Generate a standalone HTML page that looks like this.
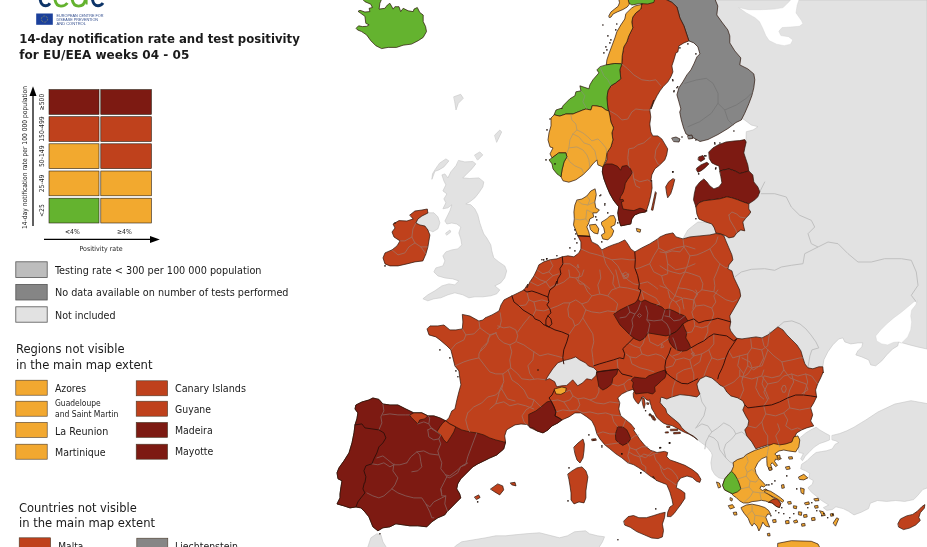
<!DOCTYPE html>
<html><head><meta charset="utf-8"><title>ECDC map</title>
<style>html,body{margin:0;padding:0;background:#fff;overflow:hidden}svg{display:block}</style>
</head><body>
<svg width="927" height="547" viewBox="0 0 927 547">
<rect width="927" height="547" fill="#fff"/>
<!-- MAP -->
<g stroke-linejoin="round" stroke-linecap="round">
<polygon points="700,0 927,0 927,349 917.6,346.9 909.7,344.9 902.7,342.9 898.7,341.9 897.7,345.9 892.7,348.9 886.7,354.9 881.7,360.9 875.7,365.8 870.7,364.9 868.7,359.9 861.8,356.9 855.8,354.9 857.8,350.9 861.8,346.9 862.8,342.9 857.8,342.9 850.8,343.9 844.8,341.9 842.8,337.9 838.8,338.9 832.8,344.9 827.8,351.9 823.8,359.9 822.8,366.8 800,380 750,345 715,335 700,300 700,250 720,205 735,165 746,140 746.3,131.7 753,130 758,126.7 751.3,125 744.7,120 738,116 725,70" fill="#e2e2e2" stroke="#c4c4c4" stroke-width="0.6"/>
<polygon points="898.7,341.9 893.7,342.3 887.7,344.9 881.7,343.9 876.7,340.9 875.7,335.9 880.7,329.9 886.7,323.9 893.7,317.9 901.7,312 907.7,307 913.7,302 917.6,300 915.7,305 911.7,310 910.7,315.9 911.7,321.9 910.7,329.9 907.7,336.9 903.7,340.9 901.7,342.9" fill="#ffffff" stroke="#d0d0d0" stroke-width="0.4"/>
<polygon points="738.9,7.6 748.6,9.7 761.5,9.7 774.5,9.1 783.1,7.6 788.5,2.2 791.7,-1.1 799.3,-1.1 797.1,5.4 796,12.9 801.4,20.5 802.9,23.7 799.3,26.3 790.6,27 782,27.6 778.8,31.3 780.9,35.6 788.5,36.7 792.8,39.9 790.6,44.2 784.2,45.7 776.6,44.2 769.1,40.6 765.8,35.6 762.6,28 759.4,21.6 755,17.7 746.4,12.9" fill="#ffffff" stroke="#d0d0d0" stroke-width="0.4"/>
<polygon points="683,238.9 685,234.9 687.9,229.9 692.9,225.9 697.9,222 705.9,222 711.9,224 714.3,227.9 716.9,233.9 709.9,235.9 699.9,236.9 689.9,237.9" fill="#e2e2e2" stroke="#c4c4c4" stroke-width="0.6"/>
<polygon points="660.6,398.3 661.7,397.2 666.8,399 671.2,397.2 680,394.6 688.9,395.5 696.9,396.9 699.9,394 697.9,389 696.9,384 699.9,379 705.9,376 711.9,378 716.8,382 723.8,387 727.8,392 731.8,395.9 737.8,397.9 743.8,400.9 745.8,404.9 743.8,409.9 746.8,415.9 749.8,420.9 748.8,425.9 745.8,429.9 747.8,435.9 752.8,441.9 756.8,448.8 750.8,452.8 744.8,454.8 742.8,459.8 737.8,461.8 733.8,463.8 732.8,468.8 729.8,472.8 726.8,475.8 723.8,479 718.8,477.8 714.9,474.8 711.9,469.8 710.9,462.8 712.2,455 711.3,452.6 708.6,448.9 704.9,445.3 701.2,442.5 697.6,439.8 693.5,436.2 689.3,433.8 685.2,431.1 681.6,427.4 679.3,423.8 675.6,420.6 671,416.9 666.9,413.2 665.6,408.7 663.2,406.3 660.2,402.7" fill="#e2e2e2" stroke="#c4c4c4" stroke-width="0.6"/>
<polygon points="800.7,437.2 806.1,432.7 812.4,429 816.1,427.2 819.7,429.9 826,433.6 829.6,435.4 829.6,439.9 825.1,441.7 819.7,443.5 814.2,447.1 809.7,451.6 805.2,456.2 802.5,460.7 800.7,458.9 803.4,453.5 798.9,452.5 798.3,445.3 798.3,439.9" fill="#e2e2e2" stroke="#c4c4c4" stroke-width="0.6"/>
<polygon points="832.3,435.4 839.6,433.6 846.8,430.8 854,427.2 861.3,422.7 865.8,420 877.9,412 894.7,404.1 911,400.7 930,404.1 930,486.9 922.7,489.6 917.3,495.9 913.7,499.6 904.7,501.4 895.6,500.5 886.6,501.4 877.5,500.5 870.3,503.2 868.5,508.6 861.3,512.2 854,514.9 848.6,511.3 843.2,508.6 835.9,506.8 832.3,509.5 826.9,510.4 823.3,507.7 828.7,505 821.5,500.5 816.1,495.9 811.5,492.3 807.9,487.8 812.4,484.2 813.3,480.6 808.8,477.9 809.7,473.3 805.2,470.6 800.7,468.8 801.6,464.3 807,460.7 811.5,456.2 816.1,452.5 821.5,451.6 826.9,450.7 832.3,448.9 835,444.4 838.7,442.6 835.9,440.8 832.3,439.9" fill="#e2e2e2" stroke="#c4c4c4" stroke-width="0.6"/>
<polygon points="458.8,160.5 464.8,161.9 472.8,161.5 475.8,163.9 471.8,168.9 465.8,174.9 462.8,177.9 469.8,178.5 478.8,177.9 483.8,181.9 482.8,186.9 478.8,192.9 474.8,197.9 469.8,201.8 465.8,203.8 470.8,204.8 474.8,208.8 477.8,214.8 479.8,222.8 481.8,228.8 483.8,234 486.8,238 490.8,244.9 491.8,250.9 493.8,257.9 498.8,261.9 504.7,265.9 506.7,270.9 504.7,277.9 500.7,282.9 494.8,285.9 499.8,289.9 496.8,293.8 490.8,295.8 482.8,296.8 474.8,296.8 468.8,297.8 462.8,294.8 454.8,292.8 447.9,294.8 440.9,297.8 433.9,298.8 427.9,300.8 422.9,298.8 427.9,294.8 434.9,290.8 441.9,285.9 448.9,283.9 454.8,284.9 458.8,280.9 452.8,278.9 444.9,277.9 437.9,275.9 433.9,271.9 435.9,267.9 442.9,265.9 444.9,260.9 442.9,255.9 445.9,251.9 451.8,249.9 457.8,248.9 461.8,244.9 460.8,239 458.8,233 460.8,227 456.8,224 451.8,223 446.9,224 444.9,221 446.9,217 449.9,210.8 451.8,204.8 447.9,207.8 442.9,208.8 445.9,202.8 443.9,198.9 446.9,193.9 442.9,190.9 445.9,184.9 443.9,180.9 441.9,174.9 444.9,173.9 447.9,177.9 450.8,171.9 455.8,165.9" fill="#e2e2e2" stroke="#c4c4c4" stroke-width="0.6"/>
<polygon points="439.9,162.9 445.9,158.9 448.9,160.9 443.9,166.9 438.9,169.9 434.9,171.3 431.9,179.3 432.5,173.9 434.9,169.9" fill="#e2e2e2" stroke="#c4c4c4" stroke-width="0.6"/>
<polygon points="474.8,154.9 479.8,151.9 482.8,154.9 477.8,159.9" fill="#e2e2e2" stroke="#c4c4c4" stroke-width="0.6"/>
<polygon points="494.8,135 499.8,130 501.7,132 496.8,142" fill="#e2e2e2" stroke="#c4c4c4" stroke-width="0.6"/>
<polygon points="421.9,215.8 427.9,212.8 433.9,212.8 437.9,216.8 439.9,222.8 437.9,228.8 432.9,231.8 427.9,229.8 424.9,225.8 419.9,224.8 415.9,222.8 417.9,218.8" fill="#e2e2e2" stroke="#c4c4c4" stroke-width="0.6"/>
<polygon points="454,96.7 460.7,94.3 463.3,98.3 458.3,103.3 456,110 454.7,101.7" fill="#e2e2e2" stroke="#c4c4c4" stroke-width="0.6"/>
<polygon points="445.9,233 449.9,230 450.8,232 446.9,235" fill="#e2e2e2" stroke="#c4c4c4" stroke-width="0.6"/>
<polygon points="366.9,549.8 370.9,537.8 376.9,533.8 380.9,534.8 382.9,541.8 387.9,549.8" fill="#e2e2e2" stroke="#c4c4c4" stroke-width="0.6"/>
<polygon points="451.8,549.8 455.7,545.8 461.7,541.8 473.7,539.8 485.7,537.8 495.7,535.8 505.6,535.8 515,534.8 525.6,533.8 539.6,532.8 559.5,537.8 567.5,535.8 574.5,531.8 585.5,530.8 589.5,533.8 597.5,535.8 604.5,536.8 602.5,541.8 597.5,549.8" fill="#e2e2e2" stroke="#c4c4c4" stroke-width="0.6"/>
<g fill="none" stroke="#c0c0c0" stroke-width="1">
<polyline points="761.3,193.7 774.7,193.7 786.3,197 791.3,207 799.7,215.3 811.3,220.3 814.7,227 808,233.7 811.3,243.7 818,247 804.7,253.7 803,263.7 791.3,265.3 781.3,267 774.7,270.3 764.7,268.7 751.3,269.3 741.3,272 734.7,277"/>
<polyline points="818,247 828,242 838,243.7 848,253.7 858,262 871.3,262 884.7,258.7 901.3,258.7 911.3,260.3 916.3,272 918,285.3 911.3,295.3 916.3,302"/>
<polyline points="777.9,326.9 783.9,321.9 791.9,320.9 799.9,323.9 805.9,328.9 810.9,334.9 815.9,341.9 818.8,347.9 811.9,349.9 809.9,355.9 808.9,361.9 807.9,367.8"/>
<polyline points="699.9,394 701.9,401.9 705.9,407.9 703.9,415.9 699.9,421.9 695.9,427.9"/>
<polyline points="695.9,427.9 701.9,423.9 707.9,425.9 711.9,431.9 708.9,435.9 705.9,441.9 704.9,448.8"/>
<polyline points="711.9,431.9 717.8,427.9 723.8,422.9 729.8,425.9 733.8,429.9 735.8,433.9 731.8,438.9 725.8,443.9 723.8,449.8 725.8,457.8 729.8,461.8 733.8,463.8"/>
<polyline points="708.9,435.9 713.9,437.9 717.8,441.9 719.8,449.8 725.8,457.8"/>
<polyline points="735.8,433.9 741.8,431.9 746.8,435.9"/>
<polyline points="759.7,192 764.7,182"/>
</g>
<polygon points="362.5,-0.8 364.9,1.7 370.8,4.2 372.4,7.5 369.1,8.3 369.9,11.6 364.9,12 360,10.3 358,11.3 364.9,16.3 365.8,23.3 369.1,24.9 366.6,26.3 362.5,26.6 358.6,25.8 356.1,28.3 357.5,29.9 361.6,31.6 366.6,34.9 370.8,40.7 375.8,45.7 381.6,48.6 388.2,47.4 396.5,47.4 403.2,45.2 411.5,44.1 418.2,40.7 423.2,37.4 426.5,31.6 425.6,26.6 423.2,21.6 423.2,15 419.8,12.5 417.3,7.5 414,9.1 413.2,11.6 408.2,10.8 403.2,8.3 400.7,11.6 399,6.7 394.9,6.7 393.2,9.1 389.9,3.3 387.4,5 384.9,8.3 379.1,9.1 379.9,3.3 381.6,-0.8" fill="#64b32f" stroke="#2a1208" stroke-width="0.7"/>
<polygon points="665,-1 671.9,2.4 676.9,7 679.9,18 683.9,25.9 688.9,40.9 693.9,42.9 697.9,46.9 699.9,53.9 696.9,56.9 693.9,63.9 690.9,69.9 686.9,74.9 682.9,81.8 678.9,87.8 676.9,94.8 678.9,101.8 680.9,109 679.7,112 681.3,120 683.6,128 686,134 692,137 700,141.5 708,139.5 718,134.5 728,128.5 736,122.5 741.3,120 744.7,113.3 748.8,103.8 751.8,95.8 753.8,87.8 754.8,79.8 753.8,73.9 747.8,68.9 739.8,64.9 740.8,57.9 734.8,50.9 729.8,42.9 729.8,35.9 727.8,29.9 721.8,22 716.8,15 717.8,6 714.9,-1" fill="#868686" stroke="#2a1208" stroke-width="0.7"/>
<polygon points="642.8,-1 640.8,9 635.8,13 632.8,17 631.8,22 632.8,27.9 628.8,35.9 626.8,41.9 623.8,46.9 622.2,55.9 621.8,63.9 619.8,69.9 620.8,78.8 615.8,82.8 610.9,85.8 607.9,90.8 606.9,97.8 607.9,109 608.9,111 609.9,116 610.9,122 613.5,127.9 611.9,132.9 612.9,139.9 610.9,146.9 606.9,152.9 606.9,159.9 604.9,163.9 602.9,166.9 602.3,171.9 603.9,178.8 606.9,186.8 609.9,193.8 613.9,200.8 618.8,206.8 617.8,212.9 618.8,219.9 620.8,225.9 625.8,224.9 630.8,223.9 631.8,218.9 634.8,214.9 639.7,212.9 645.7,211.9 646.7,209.9 648.7,204 650.7,196 652.1,188 651.7,180 650.8,181.8 651.8,174.9 654.8,168.9 659.8,164.9 664.8,159.9 666.7,154.9 667.7,148.9 664.8,143.9 661.8,138.9 657.8,135.9 652.8,135.9 650.8,131.9 649.8,124 650.8,117 649.8,110 651.8,105 653.8,100 651,109 654,101.8 657,95.8 660,90.8 663,86.8 667.9,81.8 670.9,76.8 672.9,71.9 671.9,65.9 673.9,59.9 675.9,52.9 677.9,51.9 678.9,45.9 683.9,42.9 688.9,40.9 683.9,25.9 679.9,18 676.9,7 671.9,2.4 665,-1" fill="#bf411c" stroke="#2a1208" stroke-width="0.7"/>
<polygon points="602.9,166.9 602.3,171.9 603.9,178.8 606.9,186.8 609.9,193.8 613.9,200.8 618.8,206.8 617.8,212.9 618.8,219.9 620.8,225.9 625.8,224.9 630.8,223.9 631.8,218.9 634.8,214.9 639.7,212.9 645.7,211.9 646.7,209.9 647,211.3 643.1,209 640,208.2 633.8,210.6 627.6,209.8 623,209 622.2,205.9 621.4,202 623.7,201.2 623,199.4 619.8,199.7 620.6,196.6 623,192.7 624.5,188 625.3,183.4 627.6,179.5 629.9,176.4 632.3,172.5 629.9,167.9 626.8,165.5 622.2,166.3 620.6,170.2 617.5,166.3 612.1,164 606.6,164" fill="#7d1a12" stroke="#2a1208" stroke-width="0.7"/>
<polygon points="655.3,192 651.3,209.9 652.9,210.3 656.3,193.2" fill="#bf411c" stroke="#2a1208" stroke-width="0.7"/>
<polygon points="672.7,178.8 668.7,181.8 665.7,186.8 666.7,193.8 667.7,197.8 670.7,193.8 672.7,187.8 674.7,179.8" fill="#bf411c" stroke="#2a1208" stroke-width="0.7"/>
<polygon points="631.8,8 634.8,6 641.8,4.4 642.8,0 640.8,9 635.8,13 632.8,17 631.8,22 632.8,27.9 628.8,35.9 626.8,41.9 623.8,46.9 622.2,55.9 621.8,63.9 614.9,63.5 606.3,64.9 606.9,59.9 608.9,53.9 611.9,45.9 614.9,37.9 616.8,31.9 620.8,25 624.8,19 625.8,14" fill="#f2a830" stroke="#2a1208" stroke-width="0.7"/>
<polygon points="627.8,-1 628.8,3 631.8,5 639.8,3.6 647.8,4 653.8,2.4 654.8,-1" fill="#64b32f" stroke="#2a1208" stroke-width="0.7"/>
<polygon points="608.9,15.7 611,11.9 614.5,9.1 618.1,6.3 619.5,2.8 618.8,-0.7 628.1,-0.7 629.3,4.2 627.2,7 623,9.5 617.3,11.9 613.1,14 611,17.1 609.6,17.5" fill="#f2a830" stroke="#2a1208" stroke-width="0.7"/>
<polygon points="606.3,64.9 614.9,63.5 621.8,63.9 619.8,69.9 620.8,78.8 615.8,82.8 610.9,85.8 607.9,90.8 606.9,97.8 607.9,109 608.9,111 605.9,110 601.9,107 596.9,106 592.3,105.6 590.9,110 585.9,109 582.9,110 577.9,112 572.9,114 565.9,114 560,116 554,115 556,110 562,108 561.6,109 563,105.8 565.9,102.8 569.9,98.8 574.9,95.8 575.9,91.8 580.9,90.8 579.9,85.8 582.9,86.8 588.9,88.8 589.9,84.8 592.9,79.8 598.9,72.9 596.9,69.9 599.9,66.9" fill="#64b32f" stroke="#2a1208" stroke-width="0.7"/>
<polygon points="554,115 551,118 551,125.9 549,132.9 548,139.9 550,146.9 553,147.9 550,153.9 552,157.9 559,152.9 565.9,152.9 566.9,156.9 564,161.9 562,169.9 561,176.8 563,180.8 568.9,182.2 575.9,179.8 582.9,174.9 588.9,168.9 592.9,163.9 596.9,159.9 597.9,164.9 602.9,166.9 605.9,159.9 606.9,152.9 610.9,146.9 612.9,139.9 611.9,132.9 613.5,127.9 610.9,122 609.9,116 608.9,111 605.9,110 601.9,107 596.9,106 592.3,105.6 590.9,110 585.9,109 582.9,110 577.9,112 572.9,114 565.9,114 560,116" fill="#f2a830" stroke="#2a1208" stroke-width="0.7"/>
<polygon points="559,152.9 565.9,152.9 566.9,156.9 564,161.9 562,169.9 561,176.8 557,173.9 553,168.9 552,163.9 549,159.9 552,157.9" fill="#64b32f" stroke="#2a1208" stroke-width="0.7"/>
<polygon points="594.8,189 590.8,191 586.8,196 581.9,199 576.9,200 574.9,205 573.9,211.9 574.3,218.9 573.5,224.9 575.9,230.9 577.9,235.9 589.8,236.5 588.8,231.9 586.8,226.9 588.8,222.9 589.8,218.9 593.8,216.9 592.8,212.9 596.8,212.9 599.4,209.9 595.8,207.9 594.8,202 596.2,195" fill="#f2a830" stroke="#2a1208" stroke-width="0.7"/>
<polygon points="589.8,224.9 595.8,224.3 598.8,228.9 597.8,233.9 593.8,232.9 590.8,229.9" fill="#f2a830" stroke="#2a1208" stroke-width="0.7"/>
<polygon points="601.8,221.9 606.8,218.9 609.8,215.9 613.8,215.5 615.8,219.9 614.8,224.9 610.8,226.9 613.8,230.9 611.8,235.9 607.8,239.9 602.8,238.9 601.4,234.9 604.8,232.9 603.8,227.9 601.8,224.9" fill="#f2a830" stroke="#2a1208" stroke-width="0.7"/>
<polygon points="636.7,228.5 640.7,229.5 640.1,232.3 637.3,231.5" fill="#f2a830" stroke="#2a1208" stroke-width="0.7"/>
<polygon points="708.9,151.9 712.9,147.9 717.9,145 725.9,142 733.9,141 739.8,140.6 744.8,139.6 746.2,142 744.8,147.9 743.8,152.9 745.8,158.9 747.8,164.9 748.8,170.9 744.8,172.3 739.8,173.5 734.9,170.9 728.9,168.9 723.9,169.9 719.9,170.9 718.9,165.9 715.9,164.9 711.9,162.9 709.5,158.9" fill="#7d1a12" stroke="#2a1208" stroke-width="0.7"/>
<polygon points="698.9,156.9 702.9,155.5 704.9,158.9 700.9,161.5 698.3,159.9" fill="#7d1a12" stroke="#2a1208" stroke-width="0.7"/>
<polygon points="696.9,167.9 700.9,164.9 706.9,162.3 708.9,163.9 704.9,167.9 700.9,170.9 697.9,172.3 696.5,169.9" fill="#7d1a12" stroke="#2a1208" stroke-width="0.7"/>
<polygon points="719.9,170.9 723.9,169.9 728.9,168.9 734.9,170.9 739.8,173.5 748.8,170.9 752.8,174.9 753.8,181.9 757.8,186.9 759.8,191.9 757.8,196.8 754.8,199.8 748.8,203.8 743.8,202.2 737.8,199.8 731.9,197.8 726.9,196.8 719.9,198.8 711.9,199.8 703.9,200.8 698.9,202.8 695.9,206.8 693.5,199.8 694.3,193.9 695.9,186.9 699.9,181.9 703.9,178.9 706.9,181.9 709.9,185.9 713.9,188.9 718.9,186.9 721.9,182.9 720.9,176.9" fill="#7d1a12" stroke="#2a1208" stroke-width="0.7"/>
<polygon points="695.9,206.8 698.9,202.8 703.9,200.8 711.9,199.8 719.9,198.8 726.9,196.8 731.9,197.8 737.8,199.8 743.8,202.2 748.8,203.8 748.8,209 750.8,212 748.8,215 745.8,218 742.8,222 743.8,226.9 744.8,230.9 740.8,229.9 736.8,232.9 733.9,236.9 728.9,237.9 725.9,235.9 720.9,233.9 715.9,232.9 714.3,227.9 711.9,224 705.9,222 698.9,219 696.9,214 695.9,207" fill="#bf411c" stroke="#2a1208" stroke-width="0.7"/>
<polygon points="409.9,215 414.9,211 421.9,210 427.3,209 427.9,213 421.9,216 417.9,219 415.9,223 419.9,225 424.9,226 427.9,230 429.9,235 428.9,240.9 427.9,246.9 425.9,253.9 422.9,260.9 414.9,261.9 406.9,263.9 398,265.9 390,265.9 385,263.9 383,257.9 385,252.9 392,249.9 397,245.9 400,240.9 394,237 392,232 395,228 393,224 399,220.6 406.9,221 412.9,219" fill="#bf411c" stroke="#2a1208" stroke-width="0.7"/>
<polygon points="577.9,235.9 580.9,241.9 580.9,248.9 578.9,252.9 573.9,256.8 567.9,255.8 562.3,256.8 556.9,258.8 549.9,259.8 543.9,261.8 538.9,264.8 536.9,269.8 534,275.8 530,281.8 527,287.8 527.9,284 523.9,290 517.9,293 511.9,295.9 504,299.9 501,304.9 499,310.9 492,314.9 485,317.9 482.9,320 478.9,321 469.9,316 462.3,314.4 462.9,322 462.3,328.9 455.9,329.9 449.9,329.9 443.9,325 437.9,325.9 430,325.9 427,328.9 429,334.9 435.9,336.9 439.9,339.9 446.9,345.9 450.9,349.9 452.9,357.9 454.9,365.9 458.9,370.9 459.9,378.8 460.9,384.8 458.9,391.8 456.9,399.8 454.9,409 451.8,410.9 448.8,417.9 445.8,420.9 439.8,417.9 433.8,415.9 427.8,415.9 421.8,412.9 413.8,412.9 405.8,409 397.9,405 389.9,405 382.9,404 378.9,399.4 372.9,398 368.9,400 361.9,402 355.9,405 355,409 357.9,412.9 356.9,418.9 355,424.9 354,432.9 352,442.9 349,452.9 344,460.8 339,467.8 337,472.8 338,478.8 342,480.8 341,486.8 340,494 340,497.9 337,503.9 344,505.9 350,507.9 355.9,506.9 360.9,507.9 364.9,511.9 368.9,516.8 370.9,521.8 372.9,526.8 377.9,530.8 382.9,527.8 389.9,526.8 395.9,523.8 402.9,524.8 409.8,525.8 417.8,525.8 426.8,526.8 431.8,521.8 437.8,517.8 444.8,514.8 446.8,511.9 451.8,506.9 456.7,501.9 460.7,497.9 459.7,493.9 456.7,488.9 457.7,483.9 460.7,478.9 465.7,473.9 469.7,469.9 472.7,466.9 477.7,463.9 483.7,461 489.7,458 496.7,455 503.7,449 505.6,442 504.7,435.9 506.6,429.9 511.6,426.9 515,424.9 521,424 527,424.5 532,428.5 537,430.9 543,432.9 548,429.9 552,425.9 557.9,422.9 561.9,419.9 568.9,416.9 574.9,412.9 580.9,412.9 586.9,416.9 591.9,420.9 594.9,426.9 596.9,433.9 599.9,438.9 604.9,444.9 609.8,448.8 615.8,453.8 621.8,457.8 627.8,462.8 633.8,464.8 638.8,467.8 644.8,471.8 649.8,475.8 654.8,479 652.8,476 656,480.3 661.3,482.4 666.7,484.5 669.9,492 672,499.5 673.1,504.9 669.9,507 667.7,512.3 667.3,516.6 670.9,516.6 674.2,513.4 677.4,509.1 680.6,504.9 684.9,498.4 684.9,493.1 680.6,489.9 676.3,487.7 677.4,482.4 680.6,478.1 687,476 692.3,477.5 696.6,481.3 699.8,482.4 700.9,479.2 697.7,473.8 692.3,469.6 684.9,465.3 676.3,462.1 669.9,459.9 666.7,456.7 667.7,452.5 664.5,451.4 657,452.5 650.6,450.3 645.3,446 639.9,439.6 635.7,433.2 633.5,430 634.8,428.9 630.8,423.9 625.8,419.9 620.8,415.9 618.8,408.9 619.8,402.9 617.8,397.9 621.8,394 627.8,391 632.8,389.4 634.3,391 633.2,393.5 633.5,397.6 635.7,401.2 638.3,404.1 640.1,401.2 641.6,397.9 642.7,396.5 644.5,397.6 646,399.4 648.2,400.5 649.6,399.8 650,402.7 651.1,405.6 651.8,408.7 654.1,412.3 656.4,416.9 660.1,420.6 663.7,423.3 667.4,424.7 672,425.6 676.5,427.9 681.1,430.6 684.8,432.4 689.3,434.3 693.9,437 697.6,439.8 693.5,436.2 689.3,433.8 685.2,431.1 681.6,427.4 679.3,423.8 675.6,420.6 671,416.9 666.9,413.2 665.6,408.7 663.2,406.3 660.2,402.7 660.6,398.3 661.7,397.2 666.8,399 671.2,397.2 680,394.6 688.9,395.5 696.9,396.9 699.9,394 697.9,389 696.9,384 699.9,379 705.9,376 711.9,378 716.8,382 719.8,385 723.8,387 726.8,392 730.8,395.9 737.8,397.9 742.8,400.9 744.8,404.9 742.8,409.9 745.8,415.9 748.8,420.9 747.8,425.9 744.8,429.9 746.8,435.9 751.8,441.9 755.8,448.8 761.8,446.8 767.7,444.9 773.7,445.8 779.7,446.8 785.7,445.8 791.7,443.9 793.7,438.9 794.7,436.9 796.7,432.9 801.7,429.9 806.7,427.9 813.7,425.9 810.7,420.9 812.7,414.9 810.7,407.9 813.7,402.9 816.6,396.9 815.6,390 817.6,384 820.6,378 823.2,372 823.4,372.8 822.8,366.8 818.8,366.8 812.9,368.8 807.9,367.8 804.9,363.9 802.9,357.9 800.9,350.9 796.9,344.9 791.9,339.9 786.9,334.9 782.9,329.9 777.9,326.9 772.9,330.9 767.9,334.9 762,337.9 756,336.9 749,337.9 742,338.9 736.7,338.3 733.7,334.9 730.7,330.9 729.7,327.9 730.7,321.9 729.7,315.9 733.7,309 737.7,302 740.7,296 739.7,290 736.8,283.8 733.9,277.8 731.9,270.9 727.9,268.9 728.9,264.9 732.9,259.9 731.9,254.9 728.9,247.9 725.9,240.9 723.9,235.9 720.9,234.3 715.9,233.5 709.9,234.9 699.9,235.9 689.9,236.9 683,238.9 676,236.9 673,232.9 666,234.3 660,236.9 657.7,238.9 649.7,243.9 641.7,247.9 634.8,251.9 630.8,248.9 627.8,243.9 624.8,239.9 618.8,242.9 612.8,244.9 607.8,246.9 601.8,249.9 597.8,244.9 591.8,241.9 589.8,236.5" fill="#bf411c" stroke="#2a1208" stroke-width="0.7"/>
<polygon points="568,473.9 572,470.9 577,467.9 582,466.9 585.9,470.9 587.9,476.9 586.9,483.9 585.9,490.9 585.9,497.9 584,502.9 579,501.9 574,503.9 571,499.9 571,492.9 570,485.9 569,479.9" fill="#bf411c" stroke="#2a1208" stroke-width="0.7"/>
<polygon points="574,447 578,443 583,439 584.4,444 584,451 583,458 580,463 577,460 575,454" fill="#bf411c" stroke="#2a1208" stroke-width="0.7"/>
<polygon points="623.9,520.9 628.2,516.6 633.5,515.5 638.9,517.7 646.4,517.7 653.8,515.5 660.3,513.4 665.2,512.3 664.5,517.7 662.4,524.1 663.5,530.5 662.4,536.9 658.1,538.6 651.7,538 644.2,534.8 636.7,531.6 630.3,527.3 625,525.2" fill="#bf411c" stroke="#2a1208" stroke-width="0.7"/>
<polygon points="898,523.5 900.5,518.9 906.6,515.9 912.7,514.4 917.3,511.3 921.8,506.7 924.9,504.6 924.3,508.2 920.3,512.8 918.8,517.4 920.3,520.5 915.7,525 909.6,528.1 903.5,529.6 898.9,527.2" fill="#bf411c" stroke="#2a1208" stroke-width="0.7"/>
<polygon points="490.7,488.9 497.7,483.9 502.7,485.9 503.7,489.9 499.7,494.9 494.7,491.9" fill="#bf411c" stroke="#2a1208" stroke-width="0.7"/>
<polygon points="510.6,482.9 515,482.3 516,485.9 512,484.9" fill="#bf411c" stroke="#2a1208" stroke-width="0.7"/>
<polygon points="474.7,496.9 478.7,494.9 480.1,497.5 476.7,499.5" fill="#bf411c" stroke="#2a1208" stroke-width="0.7"/>
<polygon points="545.7,379.8 548.7,374.9 552.7,368.9 557.7,362.9 563.8,360.5 570.8,358.8 575.7,356.9 579.7,359.9 585.6,362.9 588.5,366 593.8,367.8 597,371 596,375.5 591.6,379.8 586.6,378.8 582.7,382.8 577.7,385.8 572.7,379.8 569.7,382.8 566.7,385.4 561.7,385.8 556.7,386.8 554.7,381.8 549.7,378.8" fill="#e2e2e2" stroke="#3a1208" stroke-width="0.7"/>
<polygon points="554.4,389 561.9,387 566.3,388 565.5,392 560.9,394.4 556.3,394" fill="#f2a830" stroke="#2a1208" stroke-width="0.7"/>
<polygon points="445.8,420.9 439.8,417.9 433.8,415.9 427.8,415.9 421.8,412.9 413.8,412.9 405.8,409 397.9,405 389.9,405 382.9,404 378.9,399.4 372.9,398 368.9,400 361.9,402 355.9,405 355,409 357.9,412.9 356.9,418.9 355,424.9 354,432.9 352,442.9 349,452.9 344,460.8 339,467.8 337,472.8 338,478.8 342,480.8 341,486.8 340,494 340,497.9 337,503.9 344,505.9 350,507.9 355.9,506.9 360.9,507.9 364.9,511.9 368.9,516.8 370.9,521.8 372.9,526.8 377.9,530.8 382.9,527.8 389.9,526.8 395.9,523.8 402.9,524.8 409.8,525.8 417.8,525.8 426.8,526.8 431.8,521.8 437.8,517.8 444.8,514.8 446.8,511.9 451.8,506.9 456.7,501.9 460.7,497.9 459.7,493.9 456.7,488.9 457.7,483.9 460.7,478.9 465.7,473.9 469.7,469.9 472.7,466.9 477.7,463.9 483.7,461 489.7,458 496.7,455 503.7,449 505.6,442 503.7,441.9 495.7,439.9 489.7,437.9 483.7,434.9 476.7,432.9 469.7,431.9 461.7,429.9 455.7,426.9 449.8,423.9" fill="#7d1a12" stroke="#2a1208" stroke-width="0.7"/>
<polygon points="409.8,414.9 413.8,412.9 421.8,412.9 427.8,415.9 424.8,418.9 419.8,419.9 417.8,423.9 414.8,420.9 411.8,417.9" fill="#bf411c" stroke="#2a1208" stroke-width="0.7"/>
<polygon points="445.8,420.9 449.8,423.9 455.7,426.9 453.8,431.9 450.8,436.9 446.8,442.9 443.8,439.9 440.8,434.9 436.8,431.9 439.8,426.9 442.8,422.9" fill="#bf411c" stroke="#2a1208" stroke-width="0.7"/>
<polygon points="614,314 620,310 627.9,306 634.9,303 637.9,299.6 640.9,302 644.9,300 650.9,303 656.9,305 661.9,307 664.9,310 668.9,309 673.9,311 679.8,314 684.8,315.9 687.8,320.9 682.8,323.9 679.8,327.9 675.8,331.9 669.9,334.9 665.9,335.9 659.9,334.9 653.9,333.9 647.9,332.9 644.9,337.9 639.9,340.9 634.9,338.9 629.9,334.9 625,329.9 620,324.9 617,319.9" fill="#7d1a12" stroke="#2a1208" stroke-width="0.7"/>
<polygon points="679.8,327.9 682.8,323.9 684.8,328.9 686.8,332.9 685.8,337.9 688.8,342.9 690.8,347.9 686.8,350.5 681.8,351.3 676.8,349.9 672.9,346.9 669.9,342.9 668.5,338.9 669.9,334.9 675.8,331.9" fill="#7d1a12" stroke="#2a1208" stroke-width="0.7"/>
<polygon points="631.3,379.7 634.5,377.1 639.7,377.8 645.5,378.4 648.8,375.8 653.9,373.9 659.1,371.9 665,370 666.7,371.9 665,377.8 661.7,380.4 657.8,384.3 654.6,386.9 655.2,391.4 652.7,394 647.5,392.7 641,393.3 635.8,394 634.5,391.4 632.5,386.9 633.2,383" fill="#7d1a12" stroke="#2a1208" stroke-width="0.7"/>
<polygon points="529,414.3 536,410.9 541,406.9 547,401.9 551,400.9 554,406.9 555.9,411.9 555,415.9 558.9,417.9 561.9,419.9 557.9,422.9 552,425.9 548,429.9 543,432.9 537,430.9 533,427.9 530,427.9 529,425.9" fill="#7d1a12" stroke="#2a1208" stroke-width="0.7"/>
<polygon points="596.9,372 601.9,371 609.8,370 617.8,369.6 616.8,374 612.8,378 611.8,384 606.8,388 602.9,390 598.9,387 597.9,381 596.9,376" fill="#7d1a12" stroke="#2a1208" stroke-width="0.7"/>
<polygon points="617.8,426.9 622.8,426.9 626.8,429.9 628.8,433.9 630.8,438.9 627.8,442.9 622.8,445.4 618.8,442.9 615.8,439.9 615.4,433.9 616.8,429.9" fill="#7d1a12" stroke="#2a1208" stroke-width="0.7"/>
<polygon points="756,450 761.9,448 767.9,445.9 773.8,443.5 779.9,444.9 785.9,443.9 791.8,442 793.8,436.9 797.9,435.9 799.8,440 798.8,446.8 795.7,451.9 788.9,451 783.8,450 778.9,451 774.8,453.9 777.5,456.6 781.4,458.6 778.5,460 775.6,459 774.6,461.5 777.5,465.4 775.6,466.6 772.2,462.7 770.7,464.5 772.2,469.4 769.7,470.3 767.1,465.4 766.8,460.5 766.8,456.6 761.9,458.6 757.9,462.5 755,468.4 756,473.3 758.9,478.2 762.8,482.1 765.8,485.4 763.8,487 761.3,486 759.9,488.5 762.4,490.5 765.8,488.9 768.7,491.3 766.8,492.8 770.7,495.8 774.6,498.7 778.5,500.7 780.8,503.6 779.5,507.5 776.5,506.5 772.2,503 768.7,502.2 765.8,501.1 761.3,500.3 757,501.1 752.1,501.6 748.2,503 743.3,503 739.4,500.7 736.4,497.7 733.5,495.8 731.9,493.8 729.6,492.4 724.7,489.9 722.7,485 724.7,479.1 728.6,474.2 731.5,471.3 733.5,466.4 733.1,462.5 737.4,459.6 743.3,457.6 746.2,454.7 751.1,452.1 754,450.8" fill="#f2a830" stroke="#2a1208" stroke-width="0.7"/>
<polygon points="722.7,485 724.7,479.1 728.6,474.2 731.5,471.3 734.5,474.2 737.4,479.1 739.4,484 740.9,488.9 737.4,491.9 732.5,493.8 729.6,492.4 724.7,489.9" fill="#64b32f" stroke="#2a1208" stroke-width="0.7"/>
<polygon points="768.7,502.2 772.2,499.7 776.5,498.7 778.5,500.7 780.8,503.6 779.5,507.5 776.5,506.5 772.2,503" fill="#bf411c" stroke="#2a1208" stroke-width="0.7"/>
<polygon points="765.8,489.9 770.7,491.3 775.6,494.4 780.5,497.7 784,500.7 782.4,502.2 778.5,499.7 773.6,497.1 768.7,494.4 764.8,492.4" fill="#f2a830" stroke="#2a1208" stroke-width="0.7"/>
<polygon points="741.3,507.5 746.2,505 752.1,504.2 758.9,505.6 764.8,507.5 768.7,510.5 770.7,514.4 767.7,514 765.8,517.3 767.7,522.2 769.7,527.1 765.8,526.1 762.8,522.2 760.9,527.1 758.9,531 757,526.1 754,523.2 752.1,526.1 750.1,523.2 748.2,518.3 744.2,513.4 742.3,510.5" fill="#f2a830" stroke="#2a1208" stroke-width="0.7"/>
<polygon points="716.8,482.1 719.4,483.1 720.8,487 718.8,487.9" fill="#f2a830" stroke="#2a1208" stroke-width="0.7"/>
<polygon points="730.5,497.7 732.5,498.7 731.9,501.1 730.4,500.3" fill="#f2a830" stroke="#2a1208" stroke-width="0.7"/>
<polygon points="728.6,505.6 732.5,504.6 734.5,507.5 730.5,508.9" fill="#f2a830" stroke="#2a1208" stroke-width="0.7"/>
<polygon points="733.5,512.4 736.4,512 737,514.8 734.5,515.1" fill="#f2a830" stroke="#2a1208" stroke-width="0.7"/>
<polygon points="767.7,533.5 769.7,533.2 770.1,535.9 768.1,535.9" fill="#f2a830" stroke="#2a1208" stroke-width="0.7"/>
<polygon points="798.8,476.9 803.8,474.3 807.8,477.9 803.8,479.9 799.8,479.5" fill="#f2a830" stroke="#2a1208" stroke-width="0.7"/>
<polygon points="800.8,487.9 804.2,488.9 803.8,494.3 801.4,492.9" fill="#f2a830" stroke="#2a1208" stroke-width="0.7"/>
<polygon points="814.2,498.8 818.2,498.2 819,500.6 815.4,501" fill="#f2a830" stroke="#2a1208" stroke-width="0.7"/>
<polygon points="833.3,522.8 836.7,517.8 838.7,518.8 835.7,525.8" fill="#f2a830" stroke="#2a1208" stroke-width="0.7"/>
<polygon points="785.8,466.9 789.4,466.3 790.2,468.9 786.8,469.5" fill="#f2a830" stroke="#2a1208" stroke-width="0.7"/>
<polygon points="777.4,455.5 779.8,455.1 780.2,457.9 777.8,458.3" fill="#f2a830" stroke="#2a1208" stroke-width="0.7"/>
<polygon points="788.8,456.9 792.2,456.7 792.6,458.9 789.4,459.1" fill="#f2a830" stroke="#2a1208" stroke-width="0.7"/>
<polygon points="787.8,501.8 790.8,501.4 791.4,503.8 788.8,504.2" fill="#f2a830" stroke="#2a1208" stroke-width="0.7"/>
<polygon points="793.8,505.8 796.8,506.2 796.4,508.8 793.8,508.2" fill="#f2a830" stroke="#2a1208" stroke-width="0.7"/>
<polygon points="798.8,511.8 801.8,512.2 801.4,515.4 798.8,514.8" fill="#f2a830" stroke="#2a1208" stroke-width="0.7"/>
<polygon points="804.8,502.8 808.8,501.8 809.4,504.2 805.8,504.8" fill="#f2a830" stroke="#2a1208" stroke-width="0.7"/>
<polygon points="814.8,505.8 817.8,505.4 818.2,507.8 815.4,508.2" fill="#f2a830" stroke="#2a1208" stroke-width="0.7"/>
<polygon points="819.8,510.8 823.4,511.8 825.3,515.4 822.8,515.8" fill="#f2a830" stroke="#2a1208" stroke-width="0.7"/>
<polygon points="785.8,520.8 788.8,520.4 789.2,523.4 786.2,523.8" fill="#f2a830" stroke="#2a1208" stroke-width="0.7"/>
<polygon points="793.8,520.8 796.8,519.8 797.8,522.2 794.8,523" fill="#f2a830" stroke="#2a1208" stroke-width="0.7"/>
<polygon points="803.8,514.8 806.8,514.4 807.2,517 804.2,517.4" fill="#f2a830" stroke="#2a1208" stroke-width="0.7"/>
<polygon points="811.8,517.8 814.8,517.4 815.2,520.2 812.2,520.6" fill="#f2a830" stroke="#2a1208" stroke-width="0.7"/>
<polygon points="781.8,484.9 783.8,484.5 784.4,487.9 782.2,488.3" fill="#f2a830" stroke="#2a1208" stroke-width="0.7"/>
<polygon points="768.9,467.9 771.5,467.5 771.9,469.9 769.5,470.3" fill="#f2a830" stroke="#2a1208" stroke-width="0.7"/>
<polygon points="772.9,519.8 775.8,519.4 776.2,522.2 773.5,522.6" fill="#f2a830" stroke="#2a1208" stroke-width="0.7"/>
<polygon points="801.8,523.8 804.8,523.4 805.2,525.8 802.2,526.2" fill="#f2a830" stroke="#2a1208" stroke-width="0.7"/>
<polygon points="830.7,513.8 833.3,513.4 833.7,515.8 831.1,516.2" fill="#f2a830" stroke="#2a1208" stroke-width="0.7"/>
<polygon points="778,543.3 791.3,540.7 811.3,541.3 818,544 821.3,550.7 778,550.7" fill="#f2a830" stroke="#2a1208" stroke-width="0.7"/>
<polygon points="666.9,426.2 669.7,426 669.9,427.4 667.1,427.5" fill="#bf411c" stroke="#2a1208" stroke-width="0.7"/>
<polygon points="670.6,429.2 677.4,429 677.6,430.6 670.8,430.8" fill="#bf411c" stroke="#2a1208" stroke-width="0.7"/>
<polygon points="673.8,432.6 680.2,432.1 680.4,433.5 674,433.9" fill="#bf411c" stroke="#2a1208" stroke-width="0.7"/>
<polygon points="665.6,432 668.3,431.8 668.4,432.9 665.6,433" fill="#bf411c" stroke="#2a1208" stroke-width="0.7"/>
<polygon points="651.8,416 653.2,415.5 655.9,419.6 655,420.4" fill="#bf411c" stroke="#2a1208" stroke-width="0.7"/>
<polygon points="641.9,397.6 644.1,398.3 645.2,404.1 644.1,408.5 643,405.6" fill="#bf411c" stroke="#2a1208" stroke-width="0.7"/>
<polygon points="647.1,402.7 648.9,403 648.5,404.5 647.2,404.3" fill="#bf411c" stroke="#2a1208" stroke-width="0.7"/>
<polygon points="649.3,414.4 651.5,414.7 651.6,416 649.4,415.7" fill="#bf411c" stroke="#2a1208" stroke-width="0.7"/>
<polygon points="651.5,416.6 652.9,416.9 654.5,419.9 653.3,419.9" fill="#bf411c" stroke="#2a1208" stroke-width="0.7"/>
<polygon points="591.9,439.1 595.9,438.7 596.3,440.3 592.3,440.7" fill="#bf411c" stroke="#2a1208" stroke-width="0.7"/>
<polygon points="672,138 676,137 680,139 679,142 674,141.6" fill="#868686" stroke="#2a1208" stroke-width="0.7"/>
<polygon points="687.9,135.6 691.9,135 692.9,138.4 688.9,139" fill="#868686" stroke="#2a1208" stroke-width="0.7"/>
<g fill="none" stroke="#8e8e8e" stroke-width="1" opacity="0.5">
<polyline points="621.8,63.9 627.8,68.9 633.8,74.9 641.8,79.8 649.8,80.8 655.8,79.8 660.8,85.8"/>
<polyline points="609.9,111 616.8,115 621.8,120 627.8,119 631.8,112 635.8,109 643.8,110 649.8,110"/>
<polyline points="650.8,136.9 643.8,142.9 637.8,144.9 633.8,147.9 628.8,148.9 627.8,157.9 628.8,165.9 629.8,167.9"/>
<polyline points="659.8,142.9 655.8,149.9 654.8,157.9 657.8,163.9 659.8,164.9"/>
<polyline points="632.8,171.9 633.8,178.8 639.8,181.8 647.8,179.8 650.8,181.8"/>
<polyline points="633.8,178.8 635.8,185.8 639.8,187.8"/>
<polyline points="570.9,115 571.9,120 575.9,124 576.9,129.9 572.9,133.9 569.9,139.9 568.9,147.9 566.9,152.9"/>
<polyline points="576.9,129.9 582.9,132.9 587.9,136.9 591.9,140.9 597.9,138.9 601.9,142.9 605.9,147.9 606.9,152.9"/>
<polyline points="572.9,133.9 578.9,136.9 583.9,142.9 589.9,144.9 594.9,150.9 596.9,159.9"/>
<polyline points="568.9,147.9 576.9,146.9 582.9,149.9 586.9,154.9 588.9,159.9 589.9,167.9"/>
<polyline points="566.9,156.9 569.9,161.9 574.9,165.9 581.9,168.9 583.9,173.9"/>
<polyline points="580.9,90.8 584.9,95.8 582.9,101.8 586.9,109"/>
<polyline points="599.9,66.9 603.9,75.8 607.9,79.8 610.9,85.8"/>
<polyline points="728.9,215 731.9,212 736.8,214 739.8,217 745.8,218"/>
<polyline points="728.9,215 729.9,220 732.9,225 735.8,229.9 736.8,232.9"/>
<polyline points="660,251.9 666,252.9 672,250.9 680,251.9 684,246.9 683,238.9"/>
<polyline points="684,246.9 689.9,255.9 696.9,254.9 703.9,251.9 709.9,248.9 715.9,242.9 717.9,236.9"/>
<polyline points="709.9,248.9 713.9,256.9 719.9,263.9 725.9,267.9 728.9,266.9"/>
<polyline points="689.9,255.9 687.9,263.9 685,271.9 681,279.8 678,287.8 675,295.8"/>
<polyline points="660,265.9 666,269.9 672,271.9 680,273.9 685,271.9"/>
<polyline points="685,271.9 691.9,273.9 699.9,276.8 702.9,283.8 701.9,289.8 696.9,293.8 693.9,299.8 692.9,309"/>
<polyline points="719.9,263.9 716.9,271.9 713.9,278.8 714.9,285.8 713.9,291.8 701.9,289.8"/>
<polyline points="713.9,291.8 719.9,295.8 725.9,299.8 732.9,301.8 736.8,299.8"/>
<polyline points="678,287.8 685.9,288.8 692.9,290.8 696.9,293.8"/>
<polyline points="675,295.8 682,297.8 683,303.8 684,309"/>
<polyline points="660,285.8 668,288.8 675,295.8 670,303.8 669,309"/>
<polyline points="657.7,238.9 658.7,247.9 653.7,255.8 649.7,263.8 639.7,267.8 635.3,268.8"/>
<polyline points="658.7,247.9 665.7,251.9 675.7,247.9 685.6,245.9 695,248.9"/>
<polyline points="665.7,251.9 667.7,263.8 675.7,269.8 685.6,267.8 695,263.8"/>
<polyline points="649.7,263.8 653.7,271.8 661.7,275.8 667.7,273.8 667.7,263.8"/>
<polyline points="661.7,275.8 663.7,283.8 667.7,289"/>
<polyline points="639.3,283.8 647.7,281.8 653.7,285.8 657.7,289"/>
<polyline points="640.9,290 647.9,294 655.9,298 659.9,304 656.9,305"/>
<polyline points="667.9,290 669.9,298 675.8,302 679.8,308 679.8,314"/>
<polyline points="675.8,302 683.8,298 693.8,300 695.8,306 691.8,312 693.8,318.9"/>
<polyline points="693.8,300 697.8,294 695.8,290"/>
<polyline points="695.8,306 703.8,305 711.8,308 713.8,314 711.8,319.9"/>
<polyline points="711.8,308 715.8,302 713.8,296 717.8,290"/>
<polyline points="580.9,248.9 589.8,252.9 597.8,254.9 603.8,256.8 601.8,249.9"/>
<polyline points="603.8,256.8 611.8,259.8 621.8,258.8 629.8,259.8 635.3,259.8"/>
<polyline points="603.8,256.8 605.8,263.8 609.8,269.8 613.8,275.8 612.8,283.8 615.8,289"/>
<polyline points="611.8,259.8 617.8,265.8 621.8,273.8 627.8,279.8 633.8,283.8 638.7,284.8"/>
<polyline points="621.8,273.8 624.8,275.8 628.8,273.8 627.8,277.8 623.8,278.8 621.8,273.8"/>
<polyline points="562.9,263.8 569.9,263.8 575.9,267.8 579.9,273.8 577.9,279.8 583.9,283.8 589.8,289"/>
<polyline points="577.9,264.8 578.9,267.8 576.9,266.8 577.9,264.8"/>
<polyline points="554.9,286 563.8,282 569.8,277 575.8,278 581.8,276 583.8,270"/>
<polyline points="569.8,277 568.8,270"/>
<polyline points="583.8,284 587.8,292 591.8,295.9 587.8,301.9 581.8,303.9 575.8,299.9 569.8,302.9 567.8,308.9 568.8,316.9 572.8,319.9 574.8,325.9 568.8,334.9"/>
<polyline points="549.9,308.9 557.8,305.9 563.8,302.9 569.8,302.9"/>
<polyline points="591.8,295.9 599.8,294 607.7,295.9 613.7,299.9 617.7,303.9 615.7,311.9"/>
<polyline points="599.8,270 600.8,278 597.8,285 599.8,294"/>
<polyline points="607.7,295.9 611.7,290 619.7,287 627.7,288 635.7,290 641.7,292 643.7,298.9"/>
<polyline points="615.7,270 617.7,278 619.7,287"/>
<polyline points="581.8,303.9 585.8,309.9 591.8,311.9 599.8,312.9 607.7,310.9 615.7,311.9"/>
<polyline points="585.8,309.9 582.8,317.9 578.8,323.9 574.8,325.9"/>
<polyline points="582.8,317.9 587.8,325.9 592.8,333.9 593.8,341.9 591.8,349.8 592.8,357.8 593.8,365.8"/>
<polyline points="622.7,274 625.7,272 628.7,275 625.7,278 622.7,276 622.7,274"/>
<polyline points="575.8,278 579.8,284 583.8,284"/>
<polyline points="549.9,259.8 552.9,265.8 548.9,271.8 552.9,275.8 558.9,273.8"/>
<polyline points="536.9,269.8 542.9,273.8 548.9,271.8"/>
<polyline points="534,275.8 539.9,279.8 545.9,281.8 552.9,275.8"/>
<polyline points="530,281.8 537.9,285.8 545.9,281.8 549.9,287.8 556.9,283.8"/>
<polyline points="526.9,292 528.9,299.9 533.9,301.9 541.9,299.9 548.9,301.9"/>
<polyline points="518.9,305.9 525.9,304.9 528.9,299.9"/>
<polyline points="533.9,301.9 535.9,309.9 532.9,315.9"/>
<polyline points="535.9,309.9 543.9,310.9 549.9,308.9"/>
<polyline points="516.9,341.9 523.9,344.9 527.9,347.8 533.9,351.8 539.9,355.8 547.9,353.8 555.8,355.8 562.8,357.8"/>
<polyline points="533.9,351.8 532.9,359.8 527.9,365.8 529.9,373.8 533.9,379"/>
<polyline points="500.2,312.8 501.3,320.9 499.7,327.4 497.5,328.4"/>
<polyline points="517.5,332.2 521.8,326.3 525,322 528.3,318.2 529.3,316.6"/>
<polyline points="496.4,332.8 491.6,334.9 488.3,338.1 487.8,342.5 485.1,346.8 480.8,351.1"/>
<polyline points="462.3,328.9 465.9,334.9 463.9,339.9 455.9,343.9 450.9,349.9"/>
<polyline points="478.9,321 479.9,327.9 486.8,332.9 489.8,334.9 495.8,332.9"/>
<polyline points="465.9,334.9 473.9,333.9 479.9,327.9"/>
<polyline points="489.8,334.9 487.8,341.9 481.9,347.9 478.9,353.9 478.9,357.9 469.9,359.9 463.9,361.9 454.9,365.9"/>
<polyline points="497.8,325.9 503.8,327.9 509.8,326.9 515.8,329.9 517.8,335.9 515.8,341.9 509.8,344.9 503.8,342.9 498.8,338.9 495.8,332.9"/>
<polyline points="509.8,344.9 511.8,351.9 509.8,359.9 510.8,367.9 505.8,371.9 502.8,373.9 495.8,373.9 489.8,371.9 485.8,366.9 478.9,357.9"/>
<polyline points="510.8,367.9 517.8,373.9 521.8,378.8 529.8,379.8 537.7,378.8 545.7,379.8"/>
<polyline points="502.8,373.9 503.8,381.8 499.8,389.8 497.8,397.8 495.8,403.8 489.8,409"/>
<polyline points="495.8,403.8 503.8,401.8 509.8,405.8 517.8,403.8 525.8,405.8 533.8,409"/>
<polyline points="467.7,412.9 473.7,407 481.7,403 487.7,397 495.7,395 501.7,389 502.7,385"/>
<polyline points="467.7,412.9 465.7,419.9 467.7,427.9 469.7,431.9"/>
<polyline points="501.7,389 507.6,399 515,401"/>
<polyline points="518,384 524,390 528,397.9 534,399.9 541,406.9"/>
<polyline points="518,384 512,380 508,370"/>
<polyline points="534,399.9 532,405.9 526,409.9 522,415.9 524,421.9 530,427.9"/>
<polyline points="627.9,306 629.9,312 634.9,314 637.9,310 640.9,302"/>
<polyline points="620,317.9 625.9,316.9 629.9,312"/>
<polyline points="634.9,314 631.9,319.9 632.9,325.9 629.9,334.9"/>
<polyline points="637.5,315.5 639.5,313.6 641.5,315.5 639.5,317.5 637.5,315.5"/>
<polyline points="645.9,306 647.9,313 646.9,319.9 649.9,323.9 647.9,332.9"/>
<polyline points="646.9,319.9 653.9,320.9 661.9,319.9 664.9,310"/>
<polyline points="661.9,319.9 666.9,323.9 669.9,329.9 669.9,334.9"/>
<polyline points="664.9,315.9 669.9,316.9 673.9,320.9 679.8,319.9 684.8,315.9"/>
<polyline points="669.9,310 669.5,316.9"/>
<polyline points="672.9,337.9 674.9,342.9 676.8,349.9"/>
<polyline points="693.8,318.9 694.8,325.9 691.8,331.9 686.8,332.9"/>
<polyline points="694.8,325.9 701.8,327.9 707.8,325.9 711.8,319.9"/>
<polyline points="703.8,340.9 707.8,331.9 707.8,325.9"/>
<polyline points="628.9,342.9 633.9,345.9 639.9,347.9 642.9,343.9 644.9,337.9"/>
<polyline points="639.9,347.9 641.9,353.9 647.9,355.9 655.9,353.9 661.9,355.9 665.9,359.9"/>
<polyline points="641.9,353.9 635.9,357.9 629.9,356.9 625.9,353.9"/>
<polyline points="629.9,356.9 631.9,363.9 639.9,367.8 647.9,369.8 653.9,371.8"/>
<polyline points="617,358.9 618,368.8"/>
<polyline points="661.9,343.9 663.9,346.9 660.9,347.9 661.9,343.9"/>
<polyline points="647.9,332.9 649.9,341.9 657.9,345.9 663.9,341.9 668.5,338.9"/>
<polyline points="672.9,355.9 678.8,353.9 681.8,351.3"/>
<polyline points="668.9,353.9 675.8,359.9 672.9,365.8 665.9,367.8"/>
<polyline points="675.8,359.9 683.8,357.9 689.8,359.9 693.8,355.9 690.8,347.9"/>
<polyline points="691.4,353.5 693.4,352.3 694.6,354.3 692.6,355.5 691.4,353.5"/>
<polyline points="689.8,359.9 691.8,367.8 693.8,373.8 693.8,380.8"/>
<polyline points="691.8,367.8 683.8,369.8 676.8,373.8 676.8,380.8"/>
<polyline points="693.8,355.9 701.8,353.9 708.8,349.9 713.8,343.9 713.8,333.9"/>
<polyline points="708.8,349.9 711.8,357.9 717.8,359.9 725.7,357.9"/>
<polyline points="711.8,357.9 707.8,365.8 703.8,376.2"/>
<polyline points="701.8,353.9 699.8,361.9 693.8,365.8"/>
<polyline points="750.7,338.9 751.7,347.9 747.7,353.9 739.7,355.9 732.7,357.9 728.7,350.9"/>
<polyline points="751.7,347.9 761.7,349.9 767.7,345.9 769.7,331.9"/>
<polyline points="761.7,349.9 763.7,357.9 759.7,365.8 753.7,369.8 747.7,365.8 747.7,353.9"/>
<polyline points="739.7,355.9 737.7,365.8 743.7,373.8 747.7,365.8"/>
<polyline points="743.7,373.8 741.7,381.8 743.7,389.8 739.7,399"/>
<polyline points="757.7,377.8 755.7,387.8 759.7,395.8 763.7,399"/>
<polyline points="762,337.9 764,345.9 767.9,349.9 773.9,355.9 781.9,361.9 783.9,369.8 779.9,375.8 771.9,377.8 764,375.8 762,383.8 766,391.8 768.9,399"/>
<polyline points="781.9,361.9 791.9,359.9 799.9,357.9 802.9,357.9"/>
<polyline points="783.9,369.8 789.9,377.8 799.9,381.8 805.9,383.8 807.9,389.8 801.9,393.8"/>
<polyline points="742,357.9 750,361.9 752,367.8 748,373.8 742,377.8"/>
<polyline points="752,367.8 762,365.8 767.9,349.9"/>
<polyline points="781.5,388.8 782.7,385.8 785.1,385.4 786.3,388.8 785.1,392.2 782.7,392.2 781.5,388.8"/>
<polyline points="723.8,387 733.8,382 739.8,376 739.8,370"/>
<polyline points="739.8,376 751.8,379 761.8,376 763.8,370"/>
<polyline points="761.8,376 767.7,384 763.8,392 767.7,399.9 763.8,405.9"/>
<polyline points="767.7,384 777.7,382 783.7,376 791.7,374 797.7,376 805.7,374 811.7,376 817.6,384"/>
<polyline points="791.7,374 793.7,382 789.7,390 787.7,397.9"/>
<polyline points="805.7,374 807.7,382 803.7,395"/>
<polyline points="763.8,405.9 765.7,413.9 761.8,421.9 763.8,429.9 767.7,435.9 767.7,444.9"/>
<polyline points="765.7,413.9 775.7,415.9 783.7,412.9 789.7,407.9 787.7,397.9"/>
<polyline points="783.7,412.9 787.7,419.9 785.7,425.9 791.7,429.9 797.7,427.9 801.7,429.9"/>
<polyline points="789.7,407.9 799.7,409.9 810.7,407.9"/>
<polyline points="777.7,423.9 779.7,429.9 775.7,435.9 779.7,446.8"/>
<polyline points="747.8,425.9 755.8,427.9 761.8,421.9"/>
<polyline points="671.9,396.9 672.9,388 675.9,379"/>
<polyline points="746.2,454.7 748.2,461.5 745.2,467.4 747.2,472.3 746.2,476.2 737.4,479.1"/>
<polyline points="747.2,472.3 752.1,469.4 756,473.3"/>
<polyline points="746.2,476.2 750.1,481.1 756,482.1 758.9,478.2"/>
<polyline points="750.1,481.1 749.1,487 740.9,488.9"/>
<polyline points="749.1,487 753.1,491.9 759.9,492.8 766.8,492.8"/>
<polyline points="753.1,491.9 750.1,496.8 743.3,503"/>
<polyline points="759.9,492.8 761.3,500.3"/>
<polyline points="768.7,445.9 767.7,451.7 766.8,456.6"/>
<polyline points="752.1,504.2 752.1,510.5 755,515.3 754,523.2"/>
<polyline points="752.1,510.5 747.2,515.3"/>
<polyline points="755,515.3 762.8,516.3 765.8,517.3"/>
<polyline points="551,400.9 557.9,399.9 563.9,401.9 569.9,399.9 572.9,395.9 569.9,390 565.5,392"/>
<polyline points="555.9,411.9 562.9,409.9 569.9,410.9 576.9,409.9 582.9,412.9"/>
<polyline points="563.9,401.9 567.9,407.9 569.9,410.9"/>
<polyline points="572.9,395.9 577.9,398.9 583.9,397.9 589.9,399.9 595.9,397.9 598.9,392 598.9,387"/>
<polyline points="577.9,398.9 579.9,404.9 576.9,409.9"/>
<polyline points="589.9,399.9 595.9,402.9 603.9,403.9 609.8,401.9 617.8,402.9 619.8,402.9"/>
<polyline points="582.9,412.9 589.9,411.9 597.9,413.9 605.8,412.9 611.8,414.9 620.8,415.9"/>
<polyline points="611.8,384 617.8,386 623.8,384 627.8,380 631.8,379"/>
<polyline points="623.8,384 625.8,390 627.8,391"/>
<polyline points="596.9,433.9 602.9,431.9 609.8,433.9 615.4,433.9"/>
<polyline points="611.8,414.9 613.8,421.9 617.8,426.9"/>
<polyline points="622.8,426.9 625.8,419.9"/>
<polyline points="630.8,438.9 634.8,435.9 638.8,434.9"/>
<polyline points="604.9,444.9 611.8,443.9 618.8,442.9"/>
<polyline points="627.8,442.9 629.8,447.8 635.8,449.8 641.8,446.8 647.8,446.8"/>
<polyline points="629.8,447.8 627.8,455.8 629.8,461.8 627.8,462.8"/>
<polyline points="635.8,449.8 639.8,455.8 645.8,457.8 649.8,453.8 653.8,450.8"/>
<polyline points="628.9,452 633.9,455 639.8,457 643.8,454 649.8,456 653.8,454 657.8,453"/>
<polyline points="639.8,457 641.8,463.9 645.8,466.9 645.8,472.9"/>
<polyline points="653.8,454 655.8,460 659.8,464.9 663.8,469.9 667.8,467.9 671.8,469.9 676.8,475.9 677.8,478.9"/>
<polyline points="659.8,464.9 661.8,471.9 665.8,477.9 671.8,481.9 675.8,484.9 677.8,482.9"/>
<polyline points="382.9,404 383.9,410.9 380.9,416.9 381.9,422.9 378.9,429.9"/>
<polyline points="382.9,414.9 389.9,413.9 397.9,414.9 405.8,414.9 409.8,414.9"/>
<polyline points="417.8,423.9 423.8,421.9 428.8,423.9 429.8,417.9 427.8,415.9"/>
<polyline points="428.8,423.9 431.8,428.9 436.8,431.9"/>
<polyline points="427.8,429.9 431.8,427.9 436.8,431.9 440.8,434.9 438.8,438.9 433.8,439.9 428.8,436.9 427.8,429.9"/>
<polyline points="438.8,438.9 440.8,443.9 437.8,450.9 438.8,454.9"/>
<polyline points="406.8,462.8 410.8,456.9 416.8,451.9 419.8,454.9 420.8,461.8 421.8,466.8 417.8,470.8 411.8,471.8"/>
<polyline points="376.9,457.9 382.9,455.9 387.9,459.9 393.9,464.8 399.9,464.8 406.8,462.8"/>
<polyline points="416.8,451.9 423.8,450.9 429.8,453.9 437.8,454.9"/>
<polyline points="476.7,432.9 473.7,440.9 470.7,448.9 467.7,456.9 465.7,464.8 460.7,466.8 457.7,472.8 449.8,477.8 446.8,476.8"/>
<polyline points="438.8,454.9 441.8,462.8 440.8,468.8 444.8,473.8 446.8,476.8 443.8,482.8 440.8,488.8 441.8,494"/>
<polyline points="371.9,463.8 377.9,464.8 383.9,462.8 389.9,466.8 393.9,464.8"/>
<polyline points="393.9,463.9 392.9,470.9 397.9,477.9 394.9,484.9 391.9,488.9 383.9,495.9 378.9,497.9 372.9,495.9 366.9,492.9"/>
<polyline points="391.9,488.9 397.9,492.9 405.8,495.9 413.8,497.9 421.8,497.9 425.8,503.9 429.8,506.9 433.8,501.9 441.8,497.9 445.8,495.9"/>
<polyline points="425.8,503.9 429.8,511.9 431.8,517.8 433.8,517.8"/>
<polyline points="440.8,488.9 441.8,495.9 445.8,495.9 444.8,503.9 447.8,511.9"/>
<polyline points="445.8,474.9 449.8,475.9 457.7,469.9 461.7,465.9 467.7,463"/>
<polyline points="574.3,218.9 579.9,219.9 585.8,218.9 588.8,222.9"/>
<polyline points="576.9,200 581.9,204 587.8,205 594.8,202"/>
<polyline points="586.8,196 589.8,200 587.8,205"/>
<polyline points="585.8,218.9 586.8,209.9 592.8,212.9"/>
<polyline points="415.9,223 412.9,229 411.9,237 414.9,242.9 420.9,246.9 425.9,253.9"/>
<polyline points="411.9,237 404.9,240.9 400,240.9"/>
<polyline points="414.9,242.9 408.9,246.9 404.9,252.9 398,254.9 392,249.9"/>
<polyline points="420.9,246.9 427.9,246.9"/>
</g>
<g fill="none" stroke="#707070" stroke-width="0.9" opacity="0.7">
<polyline points="684.7,83.3 696.3,80 706.3,78.3 713,83.3 718,93.3 718,103.3 724.7,110 736.3,105 746.3,98.3 753,91.7"/>
<polyline points="718,103.3 711.3,113.3 699.7,121.7 688,126.7"/>
<polyline points="724.7,110 728,120 733,125"/>
</g>
<g fill="none" stroke="#35100a" stroke-width="1">
<polyline points="511.9,295.9 513.9,301.9 518.9,305.9 522.9,309.9 527.9,312.9 532.9,315.9 534.9,318.9 539.9,320.9 543.9,324.9 546.9,325.5 548.9,326.9"/>
<polyline points="523.9,290 526.9,292 531.9,291 537.9,293 542.9,295 547.9,296.9"/>
<polyline points="547.9,296.9 548.9,301.9 546.9,304.9 549.9,308.9 550.9,312.9 547.9,315.9 545.9,319.9 545.9,325.9 548.9,326.9"/>
<polyline points="547.9,315.9 550.9,318.9 551.9,323.9 548.9,326.9"/>
<polyline points="562.3,256.8 562.9,263.8 559.9,268.8 560.9,273.8 557.9,278.8 556.9,283.8 556.8,281 554.9,286 549.9,290 547.9,296.9"/>
<polyline points="548.9,326.9 554.9,329.9 561.8,331.9 568.8,334.9 566.8,341.9 563.8,349.8 562.8,357.8 563.8,363.8"/>
<polyline points="577.9,235.9 589.8,236.5"/>
<polyline points="634.8,251.9 635.3,259.8 634.8,267.8 637.7,275.8 639.3,283.8 638.7,289 640.9,290 639.9,294 637.9,299.6"/>
<polyline points="593.8,365.8 599.8,363.8 606.7,361.8 613.7,359.8 619.7,357.8 623.7,358.8 624.7,353.8 622.7,348.8 626.7,344.9 631.7,339.9 633.5,338"/>
<polyline points="597,372 605,371 612,370 618,369 622,374 632,376.5"/>
<polyline points="670.9,347.9 668.9,353.9 665.9,359.9 664.9,366.8 665.5,372.2"/>
<polyline points="690.8,347.9 697.8,343.9 703.8,340.9 708.8,336.9 713.8,333.9 719.8,334.9 726.7,335.9 733.7,340.9 736.7,338.9"/>
<polyline points="687.8,320.9 693.8,318.9 698.8,322.9 704.8,320.9 711.8,319.9 717.8,318.3 723.8,319.9 730.7,321.9"/>
<polyline points="736.7,338.9 732.7,344.9 728.7,350.9 725.7,357.9 723.8,363.9 721.8,368.8 718.8,374.8 717.8,378.8"/>
<polyline points="665.5,372.2 670.9,376.8 676.8,380.8 681.8,383.4 687.8,383.8 693.8,380.8 697.8,378.8"/>
<polyline points="744.8,404.9 747.8,407.9 755.8,406.9 763.8,405.9 771.7,404.9 779.7,401.9 787.7,397.9 795.7,395 803.7,395 810.7,395.9 816.6,396.9"/>
<polyline points="554.4,390 552,395 549,397.9 551,400.9 554,406.9 555.9,411.9 555,415.9 558.9,417.9 561.9,419.9"/>
<polyline points="355,424.9 361.9,423.9 364.9,427.9 371.9,428.9 378.9,429.9 383.9,432.9 385.9,437.9 382.9,442.9 378.9,446.9 376.9,452.9 373.9,458.9 371.9,463.8 365.9,465.8 363.9,470.8 365.9,476.8 364.9,482.8 364.3,482.9 362.9,488.9 364.9,492.9 360.9,497.9 357.9,501.9 355.9,506.9"/>
</g>
<g fill="#1a0c06">
<circle cx="588.9" cy="434.9" r="0.8"/>
<circle cx="601.9" cy="445.8" r="0.8"/>
<circle cx="621.8" cy="453.8" r="0.8"/>
<circle cx="660.7" cy="447.8" r="0.8"/>
<circle cx="669.7" cy="442.9" r="0.8"/>
<circle cx="640.8" cy="472.8" r="0.8"/>
<circle cx="538" cy="370" r="0.8"/>
<circle cx="602.9" cy="25" r="0.8"/>
<circle cx="607.9" cy="35.9" r="0.8"/>
<circle cx="610.9" cy="39.9" r="0.8"/>
<circle cx="605.9" cy="46.9" r="0.8"/>
<circle cx="603.9" cy="52.9" r="0.8"/>
<circle cx="616.8" cy="24" r="0.8"/>
<circle cx="615.8" cy="29.9" r="0.8"/>
<circle cx="609.9" cy="42.9" r="0.8"/>
<circle cx="606.9" cy="49.9" r="0.8"/>
<circle cx="672.7" cy="79.8" r="0.8"/>
<circle cx="677.7" cy="86.8" r="0.8"/>
<circle cx="674.1" cy="90.8" r="0.8"/>
<circle cx="600.8" cy="195" r="0.8"/>
<circle cx="604.8" cy="205" r="0.8"/>
<circle cx="607.8" cy="212.9" r="0.8"/>
<circle cx="574.9" cy="229.9" r="0.8"/>
<circle cx="575.9" cy="233.9" r="0.8"/>
<circle cx="574.9" cy="238.9" r="0.8"/>
<circle cx="576.9" cy="242.9" r="0.8"/>
<circle cx="569.9" cy="247.9" r="0.8"/>
<circle cx="574.9" cy="250.9" r="0.8"/>
<circle cx="541.9" cy="259.8" r="0.8"/>
<circle cx="546.9" cy="258.8" r="0.8"/>
<circle cx="556.9" cy="255.8" r="0.8"/>
<circle cx="595.8" cy="216.9" r="0.8"/>
<circle cx="596.8" cy="219.9" r="0.8"/>
<circle cx="601.8" cy="241.9" r="0.8"/>
<circle cx="617.8" cy="222.9" r="0.8"/>
<circle cx="550" cy="119" r="0.8"/>
<circle cx="547" cy="129.9" r="0.8"/>
<circle cx="546" cy="159.9" r="0.8"/>
<circle cx="555" cy="163.9" r="0.8"/>
<circle cx="599.9" cy="195.8" r="0.8"/>
<circle cx="604.9" cy="203.8" r="0.8"/>
<circle cx="672.7" cy="171.9" r="0.8"/>
<circle cx="704.7" cy="155.9" r="0.8"/>
<circle cx="714.7" cy="142.9" r="0.8"/>
<circle cx="715.6" cy="168.9" r="0.8"/>
<circle cx="698.7" cy="173.9" r="0.8"/>
<circle cx="714.9" cy="144" r="0.8"/>
<circle cx="719.9" cy="143" r="0.8"/>
<circle cx="733.9" cy="131" r="0.8"/>
<circle cx="695.9" cy="140" r="0.8"/>
<circle cx="682" cy="137" r="0.8"/>
<circle cx="673" cy="171.9" r="0.8"/>
<circle cx="705.9" cy="155.9" r="0.8"/>
<circle cx="715.9" cy="167.9" r="0.8"/>
<circle cx="695.9" cy="218.8" r="0.8"/>
<circle cx="774.9" cy="480.9" r="0.8"/>
<circle cx="771.9" cy="483.9" r="0.8"/>
<circle cx="768.9" cy="484.9" r="0.8"/>
<circle cx="786.8" cy="475.9" r="0.8"/>
<circle cx="796.8" cy="488.9" r="0.8"/>
<circle cx="775.8" cy="510.8" r="0.8"/>
<circle cx="778.8" cy="512.8" r="0.8"/>
<circle cx="770.9" cy="515.8" r="0.8"/>
<circle cx="781.8" cy="507.8" r="0.8"/>
<circle cx="783.8" cy="513.8" r="0.8"/>
<circle cx="789.8" cy="517.8" r="0.8"/>
<circle cx="793.8" cy="513.8" r="0.8"/>
<circle cx="807.8" cy="507.8" r="0.8"/>
<circle cx="816.8" cy="510.8" r="0.8"/>
<circle cx="823.8" cy="513.8" r="0.8"/>
<circle cx="827.7" cy="517.8" r="0.8"/>
<circle cx="821.8" cy="515.8" r="0.8"/>
<circle cx="832.7" cy="514.8" r="0.8"/>
<circle cx="811.8" cy="502.8" r="0.8"/>
<circle cx="766.9" cy="484.9" r="0.8"/>
<circle cx="650" cy="414.1" r="0.8"/>
<circle cx="669.2" cy="443" r="0.8"/>
<circle cx="660.1" cy="447.5" r="0.8"/>
<circle cx="645.6" cy="410.7" r="0.8"/>
<circle cx="593.9" cy="440" r="0.8"/>
<circle cx="601.9" cy="447" r="0.8"/>
<circle cx="621.9" cy="454" r="0.8"/>
<circle cx="640.8" cy="472.9" r="0.8"/>
<circle cx="655.8" cy="508.9" r="0.8"/>
<circle cx="617.9" cy="539.8" r="0.8"/>
<circle cx="569" cy="467.9" r="0.8"/>
<circle cx="568" cy="500.9" r="0.8"/>
<circle cx="659.8" cy="448" r="0.8"/>
<circle cx="669.8" cy="443" r="0.8"/>
<circle cx="395" cy="223" r="0.8"/>
<circle cx="385" cy="265.9" r="0.8"/>
<circle cx="543.7" cy="259.9" r="0.8"/>
<circle cx="546.7" cy="258.9" r="0.8"/>
<circle cx="439.9" cy="349.9" r="0.8"/>
<circle cx="449.9" cy="357.9" r="0.8"/>
<circle cx="455.9" cy="370.9" r="0.8"/>
<circle cx="457.9" cy="376.8" r="0.8"/>
<circle cx="477.7" cy="501.9" r="0.8"/>
<circle cx="379.9" cy="533.8" r="0.8"/>
<circle cx="679.9" cy="47.9" r="0.8"/>
<circle cx="695.9" cy="53.9" r="0.8"/>
<circle cx="672.9" cy="80.8" r="0.8"/>
<circle cx="676.9" cy="87.8" r="0.8"/>
<circle cx="673.9" cy="91.8" r="0.8"/>
<circle cx="687.9" cy="43.9" r="0.8"/>
</g>
</g>
<!-- LEFT PANEL -->
<g font-family="'DejaVu Sans Condensed','Liberation Sans',sans-serif" fill="#1a1a1a">
<!-- logo -->
<g fill="none" stroke-width="2.9" stroke-linecap="butt">
<path d="M39.9,-3 C40.2,2.6 42,5.8 45.4,5.8 C47.3,5.8 48.9,4.9 49.9,3.2" stroke="#0d3468"/>
<path d="M54.7,-3 C55,3 57.2,6.1 61,6.1 C63.6,6.1 65.9,5 67.4,3" stroke="#63b22e"/>
<path d="M71.9,-3 C72.2,3 74.4,6.1 78.6,6.1 C82.8,6.1 85.4,3 85.6,-3" stroke="#63b22e"/>
<path d="M86.6,-3 V4.5" stroke="#63b22e" stroke-width="2"/>
<path d="M92.2,-3 C92.5,2.6 94.5,5.8 98,5.8 C100,5.8 101.8,4.9 103,3" stroke="#0d3468"/>
</g>
<rect x="36.2" y="13.5" width="16.6" height="11.3" fill="#1b409b"/>
<circle cx="44.5" cy="19.1" r="3.1" fill="none" stroke="#c9b84a" stroke-width="0.7" stroke-dasharray="0.7 0.87"/>
<g font-family="'Liberation Sans',sans-serif" font-size="3.7" fill="#2e4a8c">
<text x="56.5" y="16.8" textLength="47" lengthAdjust="spacingAndGlyphs">EUROPEAN CENTRE FOR</text>
<text x="56.5" y="20.8" textLength="41.5" lengthAdjust="spacingAndGlyphs">DISEASE PREVENTION</text>
<text x="56.5" y="24.8" textLength="29.5" lengthAdjust="spacingAndGlyphs">AND CONTROL</text>
</g>
<!-- title -->
<text x="19.3" y="43.2" font-size="12.6" font-weight="bold" textLength="280.5" lengthAdjust="spacingAndGlyphs">14-day notification rate and test positivity</text>
<text x="19.3" y="59.4" font-size="12.6" font-weight="bold" textLength="170" lengthAdjust="spacingAndGlyphs">for EU/EEA weeks 04 - 05</text>
<!-- matrix -->
<g stroke="#2a2015" stroke-width="0.6">
<rect x="49" y="89.6" width="50" height="24.8" fill="#7d1a12"/>
<rect x="100.8" y="89.6" width="50.6" height="24.8" fill="#7d1a12"/>
<rect x="49" y="116.7" width="50" height="24.8" fill="#bf411c"/>
<rect x="100.8" y="116.7" width="50.6" height="24.8" fill="#bf411c"/>
<rect x="49" y="143.8" width="50" height="24.8" fill="#f2a92f"/>
<rect x="100.8" y="143.8" width="50.6" height="24.8" fill="#bf411c"/>
<rect x="49" y="171" width="50" height="24.8" fill="#f2a92f"/>
<rect x="100.8" y="171" width="50.6" height="24.8" fill="#f2a92f"/>
<rect x="49" y="198.2" width="50" height="24.8" fill="#64b32f"/>
<rect x="100.8" y="198.2" width="50.6" height="24.8" fill="#f2a92f"/>
</g>
<!-- arrows -->
<path d="M33,226 V94" stroke="#000" stroke-width="1.25" fill="none"/>
<path d="M33,86.2 L36.5,96 H29.5 Z" fill="#000"/>
<path d="M44,239.4 H151" stroke="#000" stroke-width="1.25" fill="none"/>
<path d="M159.8,239.4 L150,235.9 V242.9 Z" fill="#000"/>
<g font-size="6.8" text-anchor="middle">
<text x="72.4" y="234">&lt;4%</text>
<text x="124.4" y="234">≥4%</text>
<text x="101" y="251" textLength="43" lengthAdjust="spacingAndGlyphs">Positivity rate</text>
<text transform="translate(26.6,157.5) rotate(-90)" textLength="143" lengthAdjust="spacingAndGlyphs">14-day notification rate per 100 000 population</text>
<text transform="translate(44.4,102) rotate(-90)">≥500</text>
<text transform="translate(44.4,129.1) rotate(-90)">150-499</text>
<text transform="translate(44.4,156.2) rotate(-90)">50-149</text>
<text transform="translate(44.4,183.4) rotate(-90)">25-49</text>
<text transform="translate(44.4,210.6) rotate(-90)">&lt;25</text>
</g>
<!-- legend boxes -->
<g stroke="#555" stroke-width="0.8">
<rect x="15.8" y="261.8" width="31.4" height="15.8" fill="#bdbdbd"/>
<rect x="15.8" y="284.4" width="31.4" height="15.6" fill="#858585"/>
<rect x="15.8" y="306.8" width="31.4" height="15.4" fill="#e2e2e2"/>
</g>
<g font-size="10.8">
<text x="55" y="274.4" textLength="206.5" lengthAdjust="spacingAndGlyphs">Testing rate &lt; 300 per 100 000 population</text>
<text x="55" y="296.4" textLength="233.5" lengthAdjust="spacingAndGlyphs">No data available on number of tests performed</text>
<text x="55" y="318.8" textLength="60.5" lengthAdjust="spacingAndGlyphs">Not included</text>
</g>
<g font-size="13">
<text x="16" y="352.9" textLength="108.5" lengthAdjust="spacingAndGlyphs">Regions not visible</text>
<text x="16" y="368.9" textLength="136.5" lengthAdjust="spacingAndGlyphs">in the main map extent</text>
<text x="19" y="511.7" textLength="117.7" lengthAdjust="spacingAndGlyphs">Countries not visible</text>
<text x="19" y="526.8" textLength="136" lengthAdjust="spacingAndGlyphs">in the main map extent</text>
</g>
<!-- regions legend -->
<g stroke="#4a3a2a" stroke-width="0.6">
<rect x="15.8" y="380.2" width="31.4" height="15" fill="#f2a830"/>
<rect x="15.8" y="401.2" width="31.4" height="15" fill="#f2a830"/>
<rect x="15.8" y="422.4" width="31.4" height="15" fill="#f2a830"/>
<rect x="15.8" y="444.2" width="31.4" height="15" fill="#f2a830"/>
<rect x="136.2" y="380.8" width="31.4" height="15" fill="#bf411c"/>
<rect x="136.2" y="401.2" width="31.4" height="15" fill="#bf411c"/>
<rect x="136.2" y="422.4" width="31.4" height="15" fill="#7d1a12"/>
<rect x="136.2" y="444.2" width="31.4" height="15" fill="#7d1a12"/>
<rect x="19.2" y="537.8" width="31.4" height="15" fill="#bf411c"/>
<rect x="136.8" y="538.2" width="31" height="15" fill="#868686"/>
</g>
<g font-size="10.8">
<text x="55" y="391.8" textLength="31" lengthAdjust="spacingAndGlyphs">Azores</text>
<text x="55" y="435" textLength="53.3" lengthAdjust="spacingAndGlyphs">La Reunion</text>
<text x="55" y="456" textLength="50.7" lengthAdjust="spacingAndGlyphs">Martinique</text>
<text x="175" y="392.3" textLength="71" lengthAdjust="spacingAndGlyphs">Canary Islands</text>
<text x="175" y="412.8" textLength="36" lengthAdjust="spacingAndGlyphs">Guyane</text>
<text x="175" y="434" textLength="37.7" lengthAdjust="spacingAndGlyphs">Madeira</text>
<text x="175" y="455" textLength="38.3" lengthAdjust="spacingAndGlyphs">Mayotte</text>
<text x="58.3" y="549.5" textLength="25" lengthAdjust="spacingAndGlyphs">Malta</text>
<text x="175" y="549.8" textLength="63" lengthAdjust="spacingAndGlyphs">Liechtenstein</text>
</g>
<g font-size="8.2">
<text x="55" y="406" textLength="45.7" lengthAdjust="spacingAndGlyphs">Guadeloupe</text>
<text x="55" y="416.7" textLength="63.3" lengthAdjust="spacingAndGlyphs">and Saint Martin</text>
</g>
</g>

</svg>
</body></html>
